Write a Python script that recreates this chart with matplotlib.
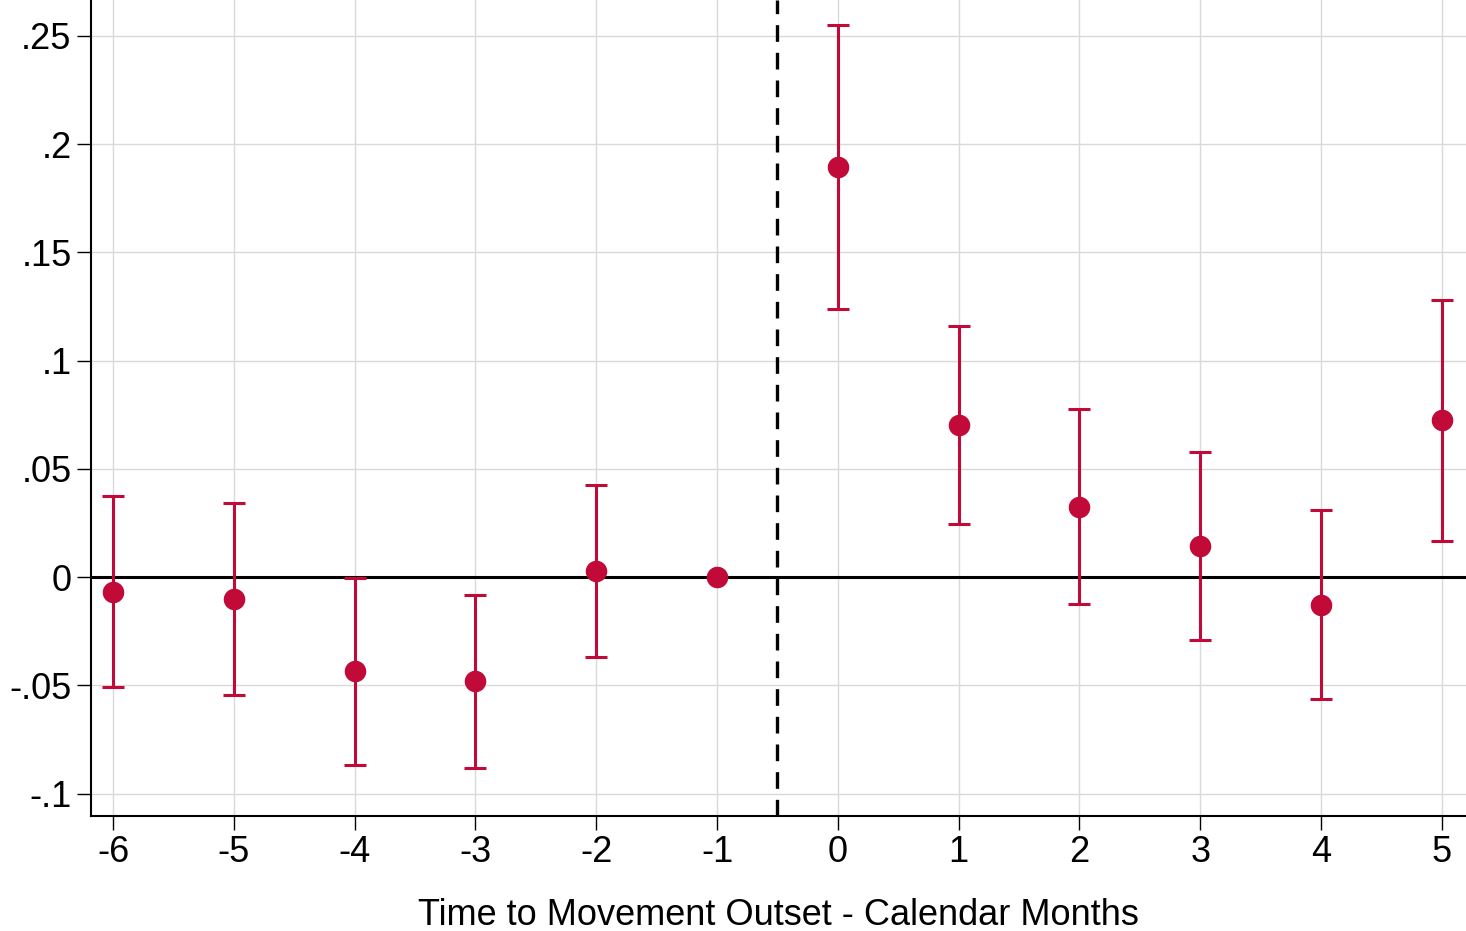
import matplotlib
matplotlib.use("Agg")
import matplotlib.pyplot as plt
import numpy as np

# Event-study coefficients with 95% confidence intervals
months = [-6, -5, -4, -3, -2, -1, 0, 1, 2, 3, 4, 5]
coef = [-0.0069, -0.0102, -0.0434, -0.0480, 0.0028, 0.0, 0.1895, 0.0702, 0.0323, 0.0143, -0.0129, 0.0725]
ci_low = [-0.0508, -0.0545, -0.0869, -0.0883, -0.0370, np.nan, 0.1238, 0.0245, -0.0125, -0.0291, -0.0564, 0.0166]
ci_high = [0.0374, 0.0342, -0.0005, -0.0083, 0.0425, np.nan, 0.2551, 0.1160, 0.0776, 0.0578, 0.0310, 0.1280]
yticks = [-0.1, -0.05, 0, 0.05, 0.1, 0.15, 0.2, 0.25]
ytick_labels = ["-.1", "-.05", "0", ".05", ".1", ".15", ".2", ".25"]

plt.rcParams['font.family'] = ['Liberation Sans', 'DejaVu Sans']
red = '#C20A38'

fig = plt.figure(figsize=(14.66, 9.31), dpi=100)
ax = fig.add_axes([0.0621, 0.1235, 0.9379, 0.8765])

coef = np.array(coef)
lo = np.array(ci_low)
hi = np.array(ci_high)
has_ci = ~np.isnan(lo)
x = np.array(months)

ax.errorbar(x[has_ci], coef[has_ci], yerr=[coef[has_ci] - lo[has_ci], hi[has_ci] - coef[has_ci]],
            fmt='none', ecolor=red, elinewidth=2.2, capsize=8, capthick=2.2, zorder=3)
ax.plot(x, coef, 'o', color=red, markersize=14.5, zorder=4)

ax.axhline(0, color='black', linewidth=2.2, zorder=2)
ax.axvline(-0.5, color='black', linewidth=2.4, linestyle=(0, (5, 3.3)), zorder=2)

ax.set_xlim(-6.182, 5.2)
ax.set_ylim(-0.1104, 0.2666)
ax.set_xticks(months)
ax.set_xticklabels([str(m) for m in months])
ax.set_yticks(yticks)
ax.set_yticklabels(ytick_labels)

ax.grid(True, color='#d9d9d9', linewidth=1.0)
ax.set_axisbelow(True)
for side in ['top', 'right']:
    ax.spines[side].set_visible(False)
for side in ['left', 'bottom']:
    ax.spines[side].set_linewidth(1.5)

ax.tick_params(axis='both', length=10, width=1.0, labelsize=26, color='black')
ax.tick_params(axis='x', pad=4)
ax.tick_params(axis='y', pad=4)
ax.set_xlabel('Time to Movement Outset - Calendar Months', fontsize=26, labelpad=20)

fig.savefig('out.png', dpi=100)
